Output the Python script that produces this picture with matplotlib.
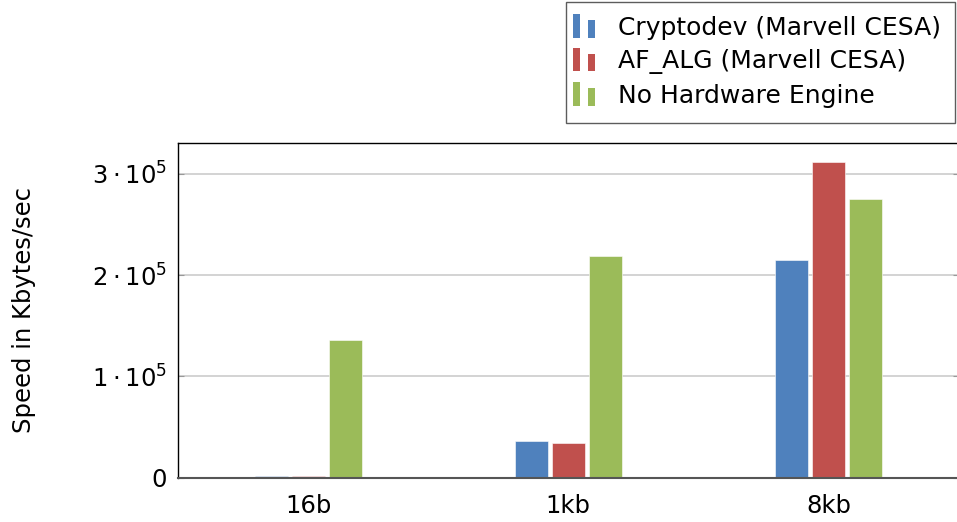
import numpy as np
import matplotlib
matplotlib.use("Agg")
import matplotlib.pyplot as plt
from matplotlib.patches import Rectangle

plt.rcParams['font.family'] = ['DejaVu Sans']
plt.rcParams['mathtext.fontset'] = 'dejavusans'

categories = ["16b", "1kb", "8kb"]
series_names = ["Cryptodev (Marvell CESA)", "AF_ALG (Marvell CESA)", "No Hardware Engine"]
cryptodev = [1500, 36200, 214900]
af_alg = [1500, 34300, 312000]
no_hw = [136000, 219000, 275400]
yticks = [0, 100000, 200000, 300000]
ytick_labels = ["0", r"$1\cdot10^5$", r"$2\cdot10^5$", r"$3\cdot10^5$"]

colors = ["#4F81BD", "#C0504D", "#9BBB59"]
fs = 17.5


class TwoBarHandler(object):
    # pgfplots style ybar legend image: two small bars
    def __init__(self, color):
        self.color = color

    def legend_artist(self, legend, orig_handle, fontsize, handlebox):
        x0, y0 = handlebox.xdescent, handlebox.ydescent
        w, h = handlebox.width, handlebox.height
        bw = w * 0.29
        left = x0 - w * 0.3
        base = y0 - h * 0.15
        r1 = Rectangle((left, base), bw, h * 1.35, facecolor=self.color,
                       edgecolor='none', transform=handlebox.get_transform())
        r2 = Rectangle((left + w * 0.62, base), bw, h * 1.0, facecolor=self.color,
                       edgecolor='none', transform=handlebox.get_transform())
        handlebox.add_artist(r1)
        handlebox.add_artist(r2)
        return r1


fig = plt.figure(figsize=(9.57, 5.22), dpi=100)
ax = fig.add_axes([0.186, 0.0849, 1.0016 - 0.186, 0.7255 - 0.0849])

x = np.arange(len(categories))
width = 0.127
offset = 0.142
data = [cryptodev, af_alg, no_hw]
handles = []
for i, vals in enumerate(data):
    b = ax.bar(x + (i - 1) * offset, vals, width, color=colors[i],
               edgecolor='white', linewidth=0.4, zorder=3, label=series_names[i])
    handles.append(b)

ax.set_xlim(-0.5, 2.5)
ax.set_ylim(0, 330000)
ax.set_xticks(x)
ax.set_xticklabels(categories, fontsize=fs)
ax.set_yticks(yticks)
ax.set_yticklabels(ytick_labels, fontsize=fs)
ax.tick_params(axis='x', length=0, pad=12)
ax.tick_params(axis='y', direction='in', length=4, color='#999999', right=True, pad=8)
ax.yaxis.grid(True, color='#cccccc', linewidth=1.2, zorder=0)
ax.set_axisbelow(True)
ax.spines['bottom'].set_color('#555555')
ax.spines['bottom'].set_linewidth(1.5)
ax.spines['bottom'].set_zorder(4)
for s in ['left', 'top', 'right']:
    ax.spines[s].set_linewidth(1.0)
ax.set_ylabel("Speed in Kbytes/sec", fontsize=fs, labelpad=40)

leg = fig.legend(handles, series_names, loc='upper right',
                 bbox_to_anchor=(955 / 957, 1 - 1.5 / 522),
                 fontsize=18, frameon=True, fancybox=False, edgecolor='#333333',
                 handler_map={handles[0]: TwoBarHandler(colors[0]),
                              handles[1]: TwoBarHandler(colors[1]),
                              handles[2]: TwoBarHandler(colors[2])},
                 handlelength=1.0, handletextpad=0.5, labelspacing=0.38,
                 borderpad=0.58, borderaxespad=0)
leg.get_frame().set_linewidth(1.0)

fig.savefig("out.png", dpi=100)
